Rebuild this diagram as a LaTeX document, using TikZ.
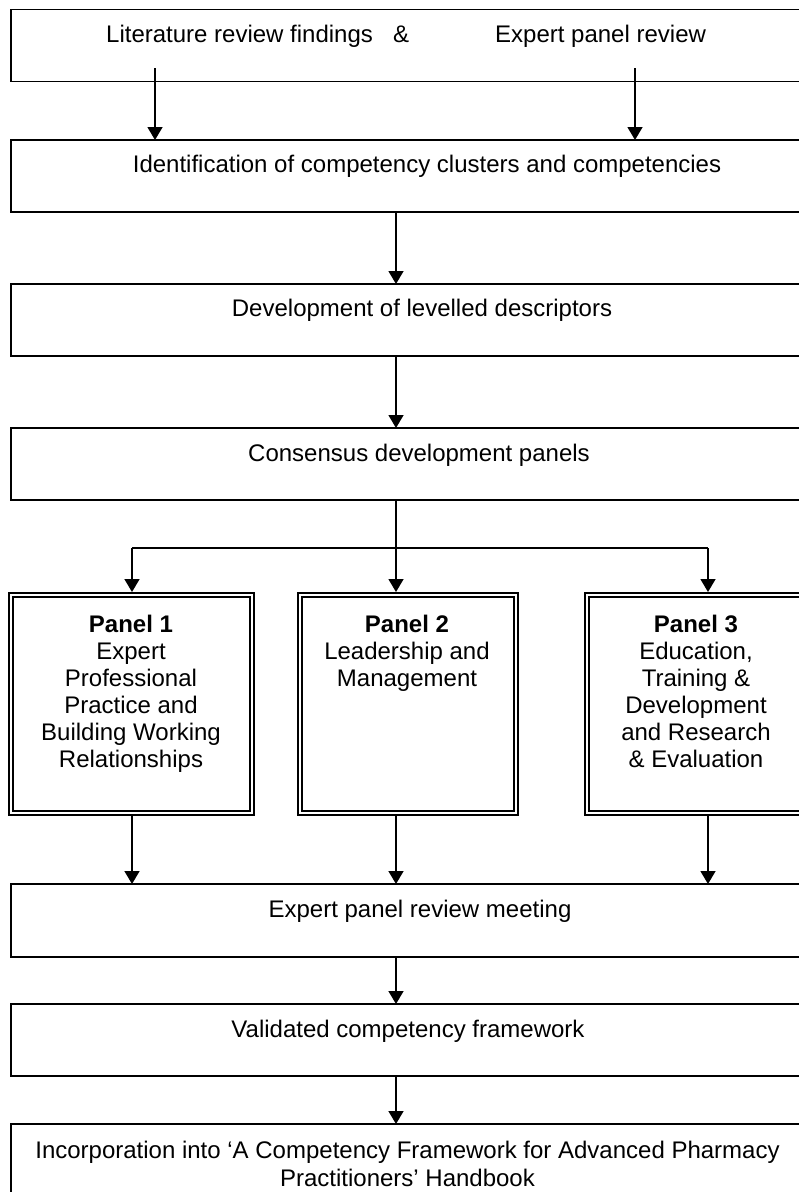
\documentclass[tikz,border=0pt]{standalone}
\usepackage{fontspec}
\setmainfont{Liberation Sans}
\usetikzlibrary{arrows.meta}
\begin{document}
\begin{tikzpicture}[x=1pt,y=-1pt,
 box/.style={draw, line width=1.5pt, rectangle, inner sep=0pt, outer sep=0pt, anchor=north west},
 panel/.style={draw, line width=1.8pt, double, double distance=2.6pt, rectangle, inner sep=0pt, outer sep=0pt, anchor=north west},
 lbl/.style={font=\fontsize{24}{27}\selectfont, inner sep=0pt, anchor=base},
 mlbl/.style={font=\fontsize{24}{27}\selectfont, inner sep=0pt, anchor=north, align=center},
 arr/.style={line width=1.5pt, -{Triangle[length=13pt,width=15pt]}},
 ln/.style={line width=1.5pt}]
\useasboundingbox (0,0) rectangle (799,1192);
\clip (0,0) rectangle (799,1192);
% boxes
\node[box, minimum width=820pt, minimum height=72pt] (b1) at (11,9.5) {};
\node[box, minimum width=820pt, minimum height=72pt] (b2) at (11,140) {};
\node[box, minimum width=820pt, minimum height=72pt] (b3) at (11,284) {};
\node[box, minimum width=820pt, minimum height=72pt] (b4) at (11,428) {};
\node[box, minimum width=820pt, minimum height=73pt] (b5) at (11,884) {};
\node[box, minimum width=820pt, minimum height=72pt] (b6) at (11,1004) {};
\node[box, minimum width=820pt, minimum height=90pt] (b7) at (11,1124) {};
% panels
\node[panel, minimum width=240.8pt, minimum height=217.8pt] (p1) at (11.1,595.1) {};
\node[panel, minimum width=215.8pt, minimum height=217.8pt] (p2) at (300.1,595.1) {};
\node[panel, minimum width=260pt, minimum height=217.8pt] (p3) at (587.1,595.1) {};
% texts
\node[lbl, anchor=base west] (t1a) at (106,42) {Literature review findings};
\node[lbl] (t1b) at (401,42) {\&};
\node[lbl, anchor=base west] (t1c) at (495,42) {Expert panel review};
\node[lbl] (t2) at (427,172) {Identification of competency clusters and competencies};
\node[lbl] (t3) at (422,316) {Development of levelled descriptors};
\node[lbl] (t4) at (419,461) {Consensus development panels};
\node[lbl] (t5) at (420,917) {Expert panel review meeting};
\node[lbl] (t6) at (408,1037) {Validated competency framework};
\node[mlbl, font=\fontsize{24}{28}\selectfont] (t7) at (407.5,1141) {Incorporation into ‘A Competency Framework for Advanced Pharmacy\\Practitioners’ Handbook};
\node[mlbl] (tp1) at (131,615) {\textbf{Panel 1}\\Expert\\Professional\\Practice and\\Building Working\\Relationships};
\node[mlbl] (tp2) at (407,615) {\textbf{Panel 2}\\Leadership and\\Management};
\node[mlbl] (tp3) at (696,615) {\textbf{Panel 3}\\Education,\\Training \&\\Development\\and Research\\\& Evaluation};
% columns
\coordinate (s1) at (155,68);
\coordinate (s2) at (635,68);
\coordinate (mx) at (396,0);
\coordinate (pl) at (132,0);
\coordinate (pr) at (708,0);
\coordinate (j) at (396,548);
% connectors
\draw[arr] (s1) -- (s1 |- b2.north);
\draw[arr] (s2) -- (s2 |- b2.north);
\draw[arr] (b2.south -| mx) -- (b3.north -| mx);
\draw[arr] (b3.south -| mx) -- (b4.north -| mx);
\draw[arr, shorten >=3.1pt] (b4.south -| mx) -- (p2.north -| mx);
\draw[ln] (j -| pl) -- (j -| pr);
\draw[arr, shorten >=3.1pt] (j -| pl) -- (p1.north -| pl);
\draw[arr, shorten >=3.1pt] (j -| pr) -- (p3.north -| pr);
\draw[arr, shorten <=3.1pt] (p1.south -| pl) -- (b5.north -| pl);
\draw[arr, shorten <=3.1pt] (p2.south -| mx) -- (b5.north -| mx);
\draw[arr, shorten <=3.1pt] (p3.south -| pr) -- (b5.north -| pr);
\draw[arr] (b5.south -| mx) -- (b6.north -| mx);
\draw[arr] (b6.south -| mx) -- (b7.north -| mx);
\end{tikzpicture}
\end{document}
